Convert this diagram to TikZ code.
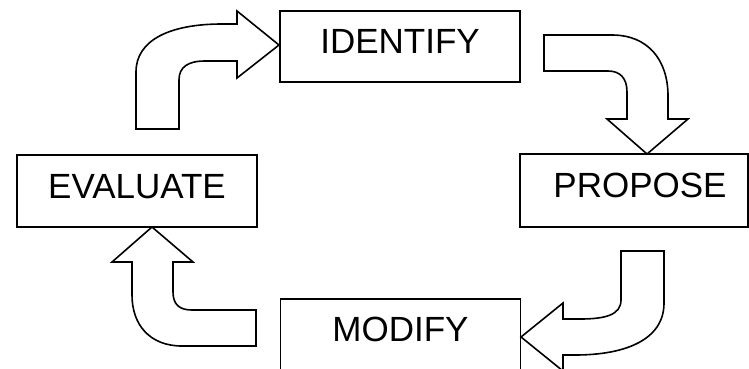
\documentclass[tikz,border=0pt]{standalone}
\usepackage{fontspec}
\setmainfont{Liberation Sans}
\begin{document}
\begin{tikzpicture}[x=1pt,y=-1pt,
  stage/.style={draw=black, line width=1.6pt, fill=white, inner sep=0pt,
    minimum width=240pt, minimum height=71pt, text depth=10pt,
    font=\fontsize{35}{40}\selectfont},
  blockarrow/.style={draw=black, line width=1.6pt, fill=white, line join=miter}]
\useasboundingbox (0,0) rectangle (749,368);

% the four stages of the cycle
\node[stage] (identify) at (400,46.5) {IDENTIFY};
\node[stage, minimum height=72pt] (evaluate) at (137,191) {EVALUATE};
\node[stage, minimum width=228pt, minimum height=73pt] (propose) at (634,190.5) {\hspace*{12pt}PROPOSE};
\node[stage] (modify) at (400.5,334.5) {MODIFY};

% evaluate -> identify
\draw[blockarrow] (136,129) -- (136,72)
  .. controls (136,40) and (170,24) .. (222,24) -- (237,24) -- (237,11)
  -- (279,45) -- (237,78) -- (237,61) -- (205,61)
  .. controls (188,61) and (179,67) .. (179,80) -- (179,129) -- cycle;

% identify -> propose
\draw[blockarrow] (544,35) -- (612,35)
  .. controls (648,35) and (668,60) .. (668,96) -- (668,119) -- (688,119)
  -- (647,154) -- (607,119) -- (627,119) -- (627,92)
  .. controls (627,78) and (620,71) .. (608,71) -- (544,71) -- cycle;

% propose -> modify
\draw[blockarrow] (621,251) -- (664,251) -- (664,303)
  .. controls (664,340) and (625,355) .. (575,355) -- (563,355) -- (563,371)
  -- (521,337) -- (563,303) -- (563,319) -- (580,319)
  .. controls (605,319) and (621,315) .. (621,300) -- cycle;

% modify -> evaluate
\draw[blockarrow] (152,227) -- (193,262) -- (173,262) -- (173,292)
  .. controls (173,305) and (180,310) .. (192,310) -- (256,310) -- (256,346)
  -- (182,346) .. controls (150,346) and (132,325) .. (132,295)
  -- (132,262) -- (112,262) -- cycle;
\end{tikzpicture}
\end{document}
